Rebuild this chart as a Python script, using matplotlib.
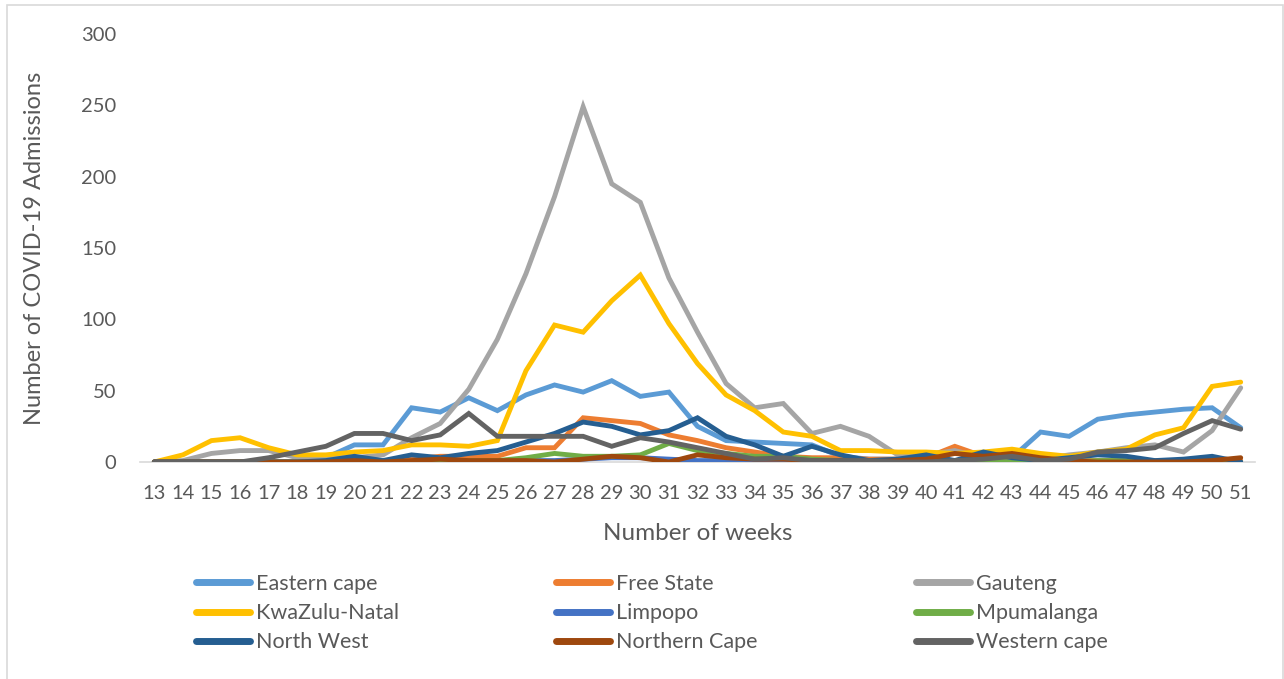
import matplotlib
matplotlib.use("Agg")
import matplotlib.pyplot as plt
from matplotlib.patches import Rectangle

weeks = list(range(13, 52))

eastern_cape = [0, 0, 0, 0, 0, 0, 3, 12, 12, 38, 35, 45, 36, 47, 54, 49, 57, 46, 49, 25,
                15, 14, 13, 12, 4, 2, 2, 1, 1, 2, 3, 21, 18, 30, 33, 35, 37, 38, 24]
free_state = [0, 0, 0, 0, 0, 0, 0, 0, 1, 2, 4, 4, 4, 10, 10, 31, 29, 27, 19, 15,
              10, 7, 4, 3, 3, 2, 2, 3, 11, 4, 3, 2, 1, 1, 1, 1, 0, 0, 1]
gauteng = [0, 1, 6, 8, 8, 3, 3, 3, 5, 17, 27, 51, 86, 132, 186, 249, 195, 182, 129, 91,
           55, 38, 41, 20, 25, 18, 5, 5, 8, 3, 5, 2, 5, 7, 10, 12, 7, 22, 52]
kwazulu_natal = [0, 5, 15, 17, 10, 5, 5, 7, 8, 12, 12, 11, 15, 64, 96, 91, 113, 131, 97, 69,
                 47, 36, 21, 18, 8, 8, 7, 7, 6, 7, 9, 6, 4, 7, 9, 19, 24, 53, 56]
limpopo = [0, 0, 0, 0, 0, 0, 0, 0, 0, 0, 0, 0, 0, 1, 1, 2, 3, 3, 2, 1,
           1, 0, 0, 0, 0, 0, 0, 0, 0, 0, 0, 0, 0, 0, 0, 0, 0, 1, 0]
mpumalanga = [0, 0, 0, 0, 0, 0, 0, 0, 0, 0, 1, 1, 1, 3, 6, 4, 4, 5, 13, 8,
              6, 4, 4, 2, 1, 1, 1, 1, 1, 1, 0, 0, 0, 1, 1, 0, 0, 1, 0]
north_west = [0, 0, 0, 0, 0, 0, 1, 4, 1, 5, 3, 6, 8, 14, 20, 28, 25, 19, 22, 31,
              18, 12, 4, 11, 5, 1, 2, 5, 1, 7, 3, 1, 3, 5, 4, 1, 2, 4, 0]
northern_cape = [0, 0, 0, 0, 0, 0, 0, 1, 0, 1, 2, 1, 1, 1, 0, 2, 4, 3, 0, 5,
                 3, 2, 2, 1, 1, 0, 1, 2, 6, 4, 6, 3, 1, 0, 0, 0, 0, 1, 3]
western_cape = [0, 0, 0, 0, 3, 7, 11, 20, 20, 15, 19, 34, 18, 18, 18, 18, 11, 17, 14, 10,
                6, 2, 3, 1, 1, 1, 0, 0, 1, 2, 4, 1, 2, 7, 8, 10, 20, 29, 23]

series = [
    ("Eastern cape", eastern_cape, "#5B9BD5"),
    ("Free State", free_state, "#ED7D31"),
    ("Gauteng", gauteng, "#A5A5A5"),
    ("KwaZulu-Natal", kwazulu_natal, "#FFC000"),
    ("Limpopo", limpopo, "#4472C4"),
    ("Mpumalanga", mpumalanga, "#70AD47"),
    ("North West", north_west, "#255E91"),
    ("Northern Cape", northern_cape, "#9E480E"),
    ("Western cape", western_cape, "#636363"),
]

text_color = "#595959"
plt.rcParams["font.family"] = ["Lato", "DejaVu Sans"]

W, H = 1284, 679
fig = plt.figure(figsize=(W / 100, H / 100), dpi=100)
fig.patches.append(Rectangle((7 / W, -0.01), (W - 8) / W, (H - 5) / H + 0.01,
                             transform=fig.transFigure, fill=False,
                             edgecolor="#D9D9D9", linewidth=1.2))

ax = fig.add_axes([140 / W, (H - 462) / H, (1255 - 140) / W, (462 - 34) / H])

handles = []
for name, vals, color in series:
    (ln,) = ax.plot(weeks, vals, color=color, linewidth=3.5, label=name,
                    solid_joinstyle="miter", solid_capstyle="round")
    handles.append(ln)

ax.set_xlim(12.5, 51.5)
ax.set_ylim(0, 300)
ax.set_yticks(range(0, 301, 50))
ax.set_xticks(weeks)
ax.set_xticklabels([str(w) for w in weeks])

for side in ("top", "right", "left"):
    ax.spines[side].set_visible(False)
ax.spines["bottom"].set_color("#D9D9D9")
ax.spines["bottom"].set_linewidth(1.2)
ax.spines["bottom"].set_zorder(0)
ax.tick_params(axis="both", length=0, labelsize=14.5, colors=text_color)
ax.tick_params(axis="y", pad=17)
ax.tick_params(axis="x", pad=16.5)

ax.set_xlabel("Number of weeks", fontsize=17.5, color=text_color, labelpad=15)
ax.set_ylabel("Number of COVID-19 Admissions", fontsize=17, color=text_color, labelpad=26)

# Legend laid out row by row in three columns
col_x = [196, 556, 916]
for c in range(3):
    hs = handles[c::3]
    leg = fig.legend(handles=hs, labels=[h.get_label() for h in hs],
                     loc="upper left", bbox_to_anchor=(col_x[c] / W, (H - 574) / H),
                     frameon=False, fontsize=15.5, handlelength=2.5,
                     handletextpad=0.28, labelspacing=0.42, borderpad=0,
                     borderaxespad=0)
    for t in leg.get_texts():
        t.set_color(text_color)
    for lh in leg.get_lines():
        lh.set_linewidth(5)
        lh.set_solid_capstyle("round")

fig.savefig("out.png", dpi=100, facecolor="white")
